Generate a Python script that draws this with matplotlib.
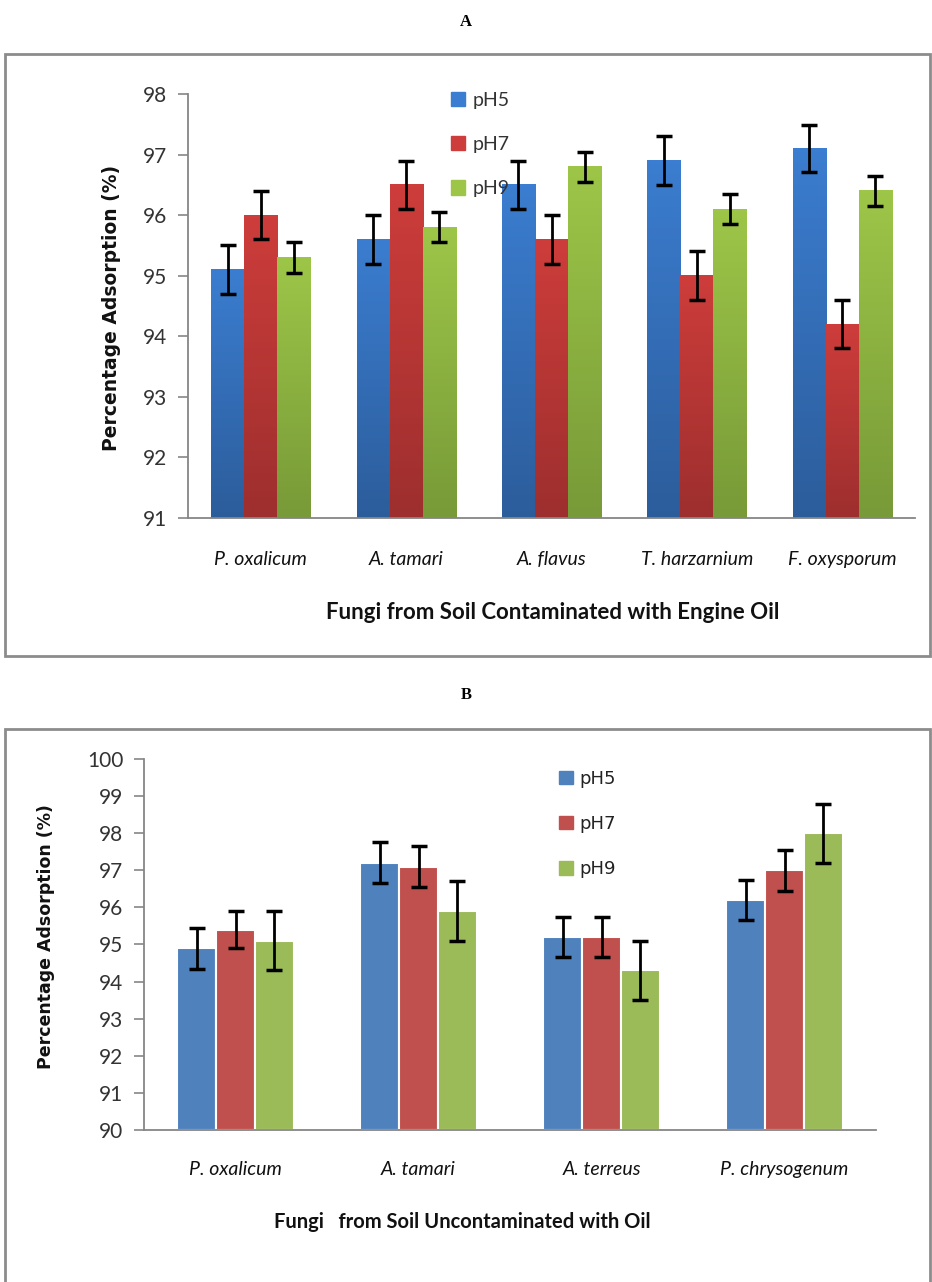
import numpy as np
import matplotlib
matplotlib.use('Agg')
import matplotlib.pyplot as plt
from matplotlib.colors import LinearSegmentedColormap
from matplotlib.patches import Patch, Rectangle

# panel A: soil contaminated with engine oil
fungi_a = ['P. oxalicum', 'A. tamari', 'A. flavus', 'T. harzarnium', 'F. oxysporum']
ph5_a = [95.1, 95.6, 96.5, 96.9, 97.1]
ph7_a = [96.0, 96.5, 95.6, 95.0, 94.2]
ph9_a = [95.3, 95.8, 96.8, 96.1, 96.4]
err5_a = [0.4, 0.4, 0.4, 0.4, 0.38]
err7_a = [0.4, 0.4, 0.4, 0.4, 0.4]
err9_a = [0.25, 0.25, 0.25, 0.25, 0.25]

# panel B: uncontaminated soil
fungi_b = ['P. oxalicum', 'A. tamari', 'A. terreus', 'P. chrysogenum']
ph5_b = [94.9, 97.2, 95.2, 96.2]
ph7_b = [95.4, 97.1, 95.2, 97.0]
ph9_b = [95.1, 95.9, 94.3, 98.0]
err5_b = [0.55, 0.55, 0.55, 0.55]
err7_b = [0.5, 0.55, 0.55, 0.55]
err9_b = [0.8, 0.8, 0.8, 0.8]

labels = ['pH5', 'pH7', 'pH9']

W, H = 932, 1282
fig = plt.figure(figsize=(W / 100, H / 100), dpi=100)


def fx(px):
    return px / W


def fy(py):
    return 1 - py / H


grad_a = [('#3b7dd0', '#2c5d9b'), ('#cd3d3b', '#9d2f2e'), ('#9dc648', '#789a38')]
flat_b = ['#4f81bd', '#c0504d', '#9bbb59']
spine_col = '#868686'


def style_axes(ax, ymin, ymax):
    ax.set_ylim(ymin, ymax)
    ax.set_yticks(np.arange(ymin, ymax + 1))
    for s in ['top', 'right']:
        ax.spines[s].set_visible(False)
    for s in ['left', 'bottom']:
        ax.spines[s].set_color(spine_col)
        ax.spines[s].set_linewidth(1.3)
    ax.tick_params(axis='y', direction='out', length=7, width=1.2, color=spine_col,
                   labelsize=15, labelcolor='#333333', pad=8)
    ax.tick_params(axis='x', length=0)
    for t in ax.get_yticklabels():
        t.set_family('Lato')


# ---------- panel A ----------
fig.text(fx(466), fy(22), 'A', ha='center', va='center', family='Liberation Serif',
         weight='bold', fontsize=12)
fig.add_artist(Rectangle((fx(5), fy(656)), fx(930) - fx(5), fy(54) - fy(656),
                         transform=fig.transFigure, fill=False, ec='#8c8c8c', lw=2))

axA = fig.add_axes([fx(188), fy(518), fx(915) - fx(188), fy(94) - fy(518)])
x = np.arange(len(fungi_a))
w = 0.227
base = 91
for i, (vals, errs) in enumerate(zip([ph5_a, ph7_a, ph9_a], [err5_a, err7_a, err9_a])):
    pos = x + (i - 1) * w
    bars = axA.bar(pos, np.array(vals) - base, w, bottom=base, color='none', zorder=2)
    cmap = LinearSegmentedColormap.from_list('g%d' % i, [grad_a[i][1], grad_a[i][0]])
    grad = np.linspace(0, 1, 100).reshape(-1, 1)
    for b in bars:
        bx, by = b.get_x(), b.get_y()
        axA.imshow(grad, extent=[bx, bx + b.get_width(), by, by + b.get_height()],
                   origin='lower', aspect='auto', cmap=cmap, zorder=1)
    axA.errorbar(pos, vals, yerr=errs, fmt='none', ecolor='black', elinewidth=2,
                 capsize=6, capthick=2.5, zorder=3)
axA.set_xlim(-0.5, len(fungi_a) - 0.5)
style_axes(axA, 91, 98)
axA.set_xticks(x)
axA.set_xticklabels(fungi_a, family='Lato', style='italic', fontsize=14, color='#111111')
axA.tick_params(axis='x', pad=24)

fig.text(fx(112), fy(308), 'Percentage Adsorption (%)', rotation=90, ha='center',
         va='center', fontsize=13.5, weight='bold', family='DejaVu Sans', color='#111111')
fig.text(fx(553), fy(612), 'Fungi from Soil Contaminated with Engine Oil', ha='center',
         va='center', fontsize=16, weight='bold', family='Lato', color='#111111')

handles_a = [Patch(color=grad_a[i][0]) for i in range(3)]
legA = fig.legend(handles_a, labels, loc='upper left', bbox_to_anchor=(fx(441), fy(82)),
                  frameon=False, borderpad=0, handlelength=0.75, handleheight=0.75,
                  handletextpad=0.4, labelspacing=1.4,
                  prop={'family': 'Lato', 'size': 14})
for t in legA.get_texts():
    t.set_color('#333333')

# ---------- panel B ----------
fig.text(fx(466), fy(695), 'B', ha='center', va='center', family='Liberation Serif',
         weight='bold', fontsize=12)
fig.add_artist(Rectangle((fx(5), fy(1300)), fx(930) - fx(5), fy(729) - fy(1300),
                         transform=fig.transFigure, fill=False, ec='#8c8c8c', lw=2,
                         clip_on=False))

axB = fig.add_axes([fx(144), fy(1130), fx(876) - fx(144), fy(759) - fy(1130)])
x = np.arange(len(fungi_b))
w = 0.213
base = 90
for i, (vals, errs) in enumerate(zip([ph5_b, ph7_b, ph9_b], [err5_b, err7_b, err9_b])):
    pos = x + (i - 1) * w
    axB.bar(pos, np.array(vals) - base, w, bottom=base, color=flat_b[i],
            edgecolor='white', linewidth=1.5, zorder=2)
    axB.errorbar(pos, vals, yerr=errs, fmt='none', ecolor='black', elinewidth=2,
                 capsize=6, capthick=2.5, zorder=3)
axB.set_xlim(-0.5, len(fungi_b) - 0.5)
style_axes(axB, 90, 100)
axB.set_xticks(x)
axB.set_xticklabels(fungi_b, family='Lato', style='italic', fontsize=14, color='#111111')
axB.tick_params(axis='x', pad=22)

fig.text(fx(46), fy(937), 'Percentage Adsorption (%)', rotation=90, ha='center',
         va='center', fontsize=12.5, weight='bold', family='DejaVu Sans', color='#111111')
fig.text(fx(462), fy(1222), 'Fungi   from Soil Uncontaminated with Oil', ha='center',
         va='center', fontsize=14.5, weight='bold', family='Lato', color='#111111')

handles_b = [Patch(color=c) for c in flat_b]
legB = fig.legend(handles_b, labels, loc='upper left', bbox_to_anchor=(fx(550), fy(761)),
                  frameon=False, borderpad=0, handlelength=0.75, handleheight=0.75,
                  handletextpad=0.4, labelspacing=1.5,
                  prop={'family': 'DejaVu Sans', 'size': 13})
for t in legB.get_texts():
    t.set_color('#222222')

fig.savefig('out.png', dpi=100)
